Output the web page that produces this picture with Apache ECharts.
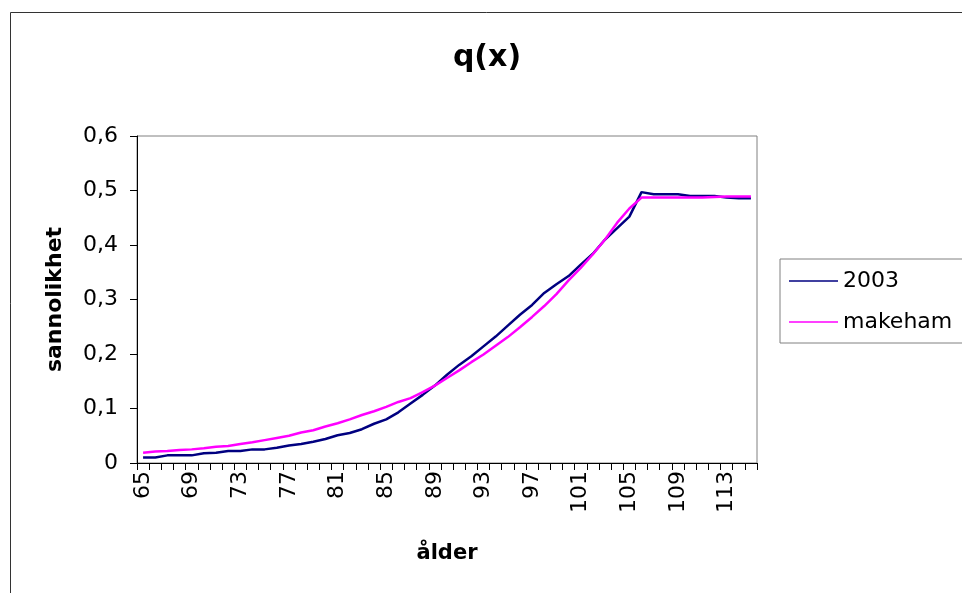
<!DOCTYPE html>
<html>
<head>
<meta charset="utf-8">
<script src="https://cdn.jsdelivr.net/npm/echarts@6/dist/echarts.min.js"></script>
<style>
  html, body { margin: 0; padding: 0; background: #ffffff; }
  #chart { width: 962px; height: 593px; }
</style>
</head>
<body>
<div id="chart"></div>
<script>
// Ages 65..115
const ages = [];
for (let a = 65; a <= 115; a++) ages.push(String(a));

// Observed one-year death probabilities, 2003
const q2003 = [
  0.010, 0.010, 0.014, 0.014, 0.014, 0.018, 0.019, 0.022, 0.022, 0.025,
  0.025, 0.028, 0.032, 0.035, 0.039, 0.044, 0.051, 0.055, 0.062, 0.072,
  0.080, 0.093, 0.109, 0.125, 0.142, 0.162, 0.180, 0.196, 0.214, 0.232,
  0.252, 0.272, 0.290, 0.312, 0.328, 0.343, 0.364, 0.384, 0.410, 0.431,
  0.452, 0.497, 0.493, 0.493, 0.493, 0.490, 0.490, 0.490, 0.487, 0.486,
  0.486
];

// Fitted Makeham curve
const qMakeham = [
  0.019, 0.021, 0.022, 0.024, 0.025, 0.027, 0.030, 0.031, 0.035, 0.038,
  0.042, 0.046, 0.050, 0.056, 0.060, 0.067, 0.073, 0.080, 0.088, 0.095,
  0.103, 0.112, 0.119, 0.130, 0.142, 0.156, 0.170, 0.185, 0.199, 0.215,
  0.231, 0.249, 0.268, 0.288, 0.310, 0.335, 0.358, 0.383, 0.410, 0.441,
  0.467, 0.487, 0.487, 0.487, 0.487, 0.487, 0.487, 0.488, 0.489, 0.489,
  0.489
];

const seriesNames = ['2003', 'makeham'];
const FONT = '"DejaVu Sans", Verdana, sans-serif';

const chart = echarts.init(document.getElementById('chart'), null, { renderer: 'canvas' });

chart.setOption({
  animation: false,
  backgroundColor: '#ffffff',
  title: {
    text: 'q(x)',
    left: 482,
    top: 38,
    textAlign: 'center',
    textStyle: { fontFamily: FONT, fontSize: 30, fontWeight: 'bold', color: '#000' }
  },
  graphic: [
    {
      type: 'rect',
      silent: true,
      shape: { x: 10.5, y: 12.5, width: 1000, height: 700 },
      style: { fill: 'none', stroke: '#333333', lineWidth: 1 }
    }
  ],
  legend: {
    data: seriesNames,
    orient: 'vertical',
    left: 780,
    top: 259,
    padding: [11, 24, 10, 9],
    itemGap: 19,
    itemWidth: 49,
    itemHeight: 1.5,
    icon: 'rect',
    borderColor: '#808080',
    borderWidth: 1,
    textStyle: { fontFamily: FONT, fontSize: 22, lineHeight: 22, color: '#000' }
  },
  grid: {
    left: 137,
    right: 205,
    top: 136,
    bottom: 130,
    show: true,
    borderColor: '#808080',
    borderWidth: 1,
    backgroundColor: '#ffffff'
  },
  xAxis: {
    type: 'category',
    data: ages,
    boundaryGap: true,
    name: 'ålder',
    nameLocation: 'middle',
    nameGap: 80,
    nameTextStyle: { fontFamily: FONT, fontSize: 21, fontWeight: 'bold', color: '#000' },
    axisLine: { lineStyle: { color: '#000', width: 1 } },
    axisTick: { show: true, interval: 0, length: 7, lineStyle: { color: '#000' } },
    axisLabel: {
      interval: 3,
      rotate: 90,
      margin: 8,
      fontFamily: FONT,
      fontSize: 22,
      color: '#000'
    },
    splitLine: { show: false }
  },
  yAxis: {
    type: 'value',
    min: 0,
    max: 0.6,
    interval: 0.1,
    name: 'sannolikhet',
    nameLocation: 'middle',
    nameGap: 71,
    nameRotate: 90,
    nameTextStyle: { fontFamily: FONT, fontSize: 22, fontWeight: 'bold', color: '#000' },
    axisLine: { show: true, lineStyle: { color: '#000', width: 1 } },
    axisTick: { show: true, length: 7, lineStyle: { color: '#000' } },
    axisLabel: {
      margin: 19,
      fontFamily: FONT,
      fontSize: 22,
      color: '#000',
      formatter: v => (Math.round(v * 10) / 10).toString().replace('.', ',')
    },
    splitLine: { show: false }
  },
  series: [
    {
      name: seriesNames[0],
      type: 'line',
      data: q2003,
      symbol: 'none',
      lineStyle: { color: '#000080', width: 2.5 },
      itemStyle: { color: '#000080' },
      z: 2
    },
    {
      name: seriesNames[1],
      type: 'line',
      data: qMakeham,
      symbol: 'none',
      lineStyle: { color: '#ff00ff', width: 2.5 },
      itemStyle: { color: '#ff00ff' },
      z: 3
    }
  ]
});
</script>
</body>
</html>
